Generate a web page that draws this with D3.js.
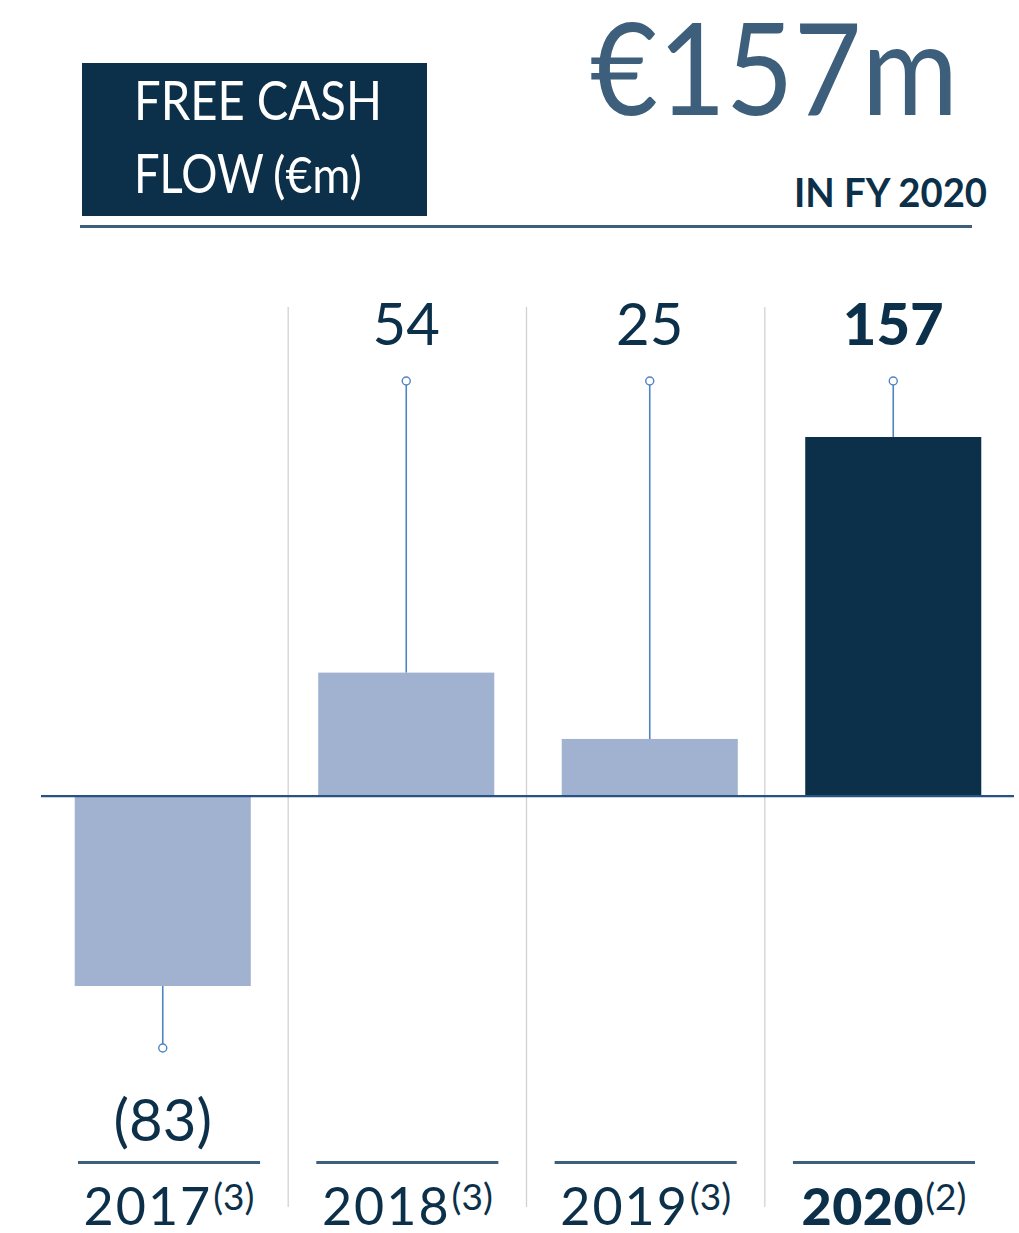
<!DOCTYPE html>
<html>
<head>
<meta charset="utf-8">
<script src="https://cdn.jsdelivr.net/npm/d3@7"></script>
<style>
  html, body { margin: 0; background: #ffffff; }
  svg { display: block; }
</style>
</head>
<body>
<script>
// Free cash flow by fiscal year, €m
const years = ["2017", "2018", "2019", "2020"];
const notes = ["(3)", "(3)", "(3)", "(2)"];
const values = [-83, 54, 25, 157];
const valueLabels = ["(83)", "54", "25", "157"];
const highlightYear = "2020";

const titleLine1 = "FREE CASH";
const titleLine2a = "FLOW";
const titleLine2b = "(€m)";
const headline = "€157m";
const headlineSub = "IN FY 2020";

const W = 1019, H = 1233;
const NAVY = "#0c3049";
const STEEL = "#3d5f7c";
const LIGHT = "#a0b2cf";
const LEADER = "#4f83c4";
const AXIS = "#2a5184";
const SEP = "#d2d2d2";
const FONT = "Lato, 'Noto Sans', sans-serif";

const svg = d3.select("body").append("svg")
  .attr("width", W).attr("height", H)
  .style("font-family", FONT);

// ---- header ----
svg.append("rect")
  .attr("x", 82).attr("y", 63).attr("width", 345).attr("height", 153)
  .attr("fill", NAVY);

// condensed title lines: natural glyphs squeezed horizontally
function squeezed(str, x0, y0, size, width) {
  const g = svg.append("g");
  const t = g.append("text")
    .attr("font-size", size).attr("fill", "#ffffff")
    .text(str);
  const w = t.node().getComputedTextLength();
  g.attr("transform", `translate(${x0},${y0}) scale(${width / w},1)`);
  return t;
}
squeezed(titleLine1, 134, 120, 54, 248);
squeezed(titleLine2a, 134, 193, 54, 130);
squeezed(titleLine2b, 273, 193, 50, 89);

svg.append("text")
  .attr("x", 590).attr("y", 115)
  .attr("font-size", 128).attr("font-weight", 400).attr("fill", STEEL)
  .attr("textLength", 368).attr("lengthAdjust", "spacingAndGlyphs")
  .text(headline);

svg.append("text")
  .attr("x", 794).attr("y", 207)
  .attr("font-size", 41).attr("font-weight", 700).attr("fill", NAVY)
  .attr("textLength", 193).attr("lengthAdjust", "spacingAndGlyphs")
  .text(headlineSub);

svg.append("line")
  .attr("x1", 80).attr("x2", 972).attr("y1", 226.5).attr("y2", 226.5)
  .attr("stroke", STEEL).attr("stroke-width", 3);

// ---- scales ----
const x = d3.scaleBand()
  .domain(years)
  .range([41, 1015])
  .paddingInner(0.277)
  .paddingOuter(0.1385);

const xFoot = d3.scaleBand()
  .domain(years)
  .range([78, 975])
  .paddingInner(0.236)
  .paddingOuter(0);

const y = d3.scaleLinear()
  .domain([d3.min(values), d3.max(values)])
  .range([986, 437]);

const data = years.map((yr, i) => ({
  year: yr, value: values[i], label: valueLabels[i], note: notes[i]
}));

// column separators, midway between footer bands
const gap = xFoot.step() - xFoot.bandwidth();
svg.append("g").selectAll("line")
  .data(years.slice(1))
  .join("line")
  .attr("x1", d => xFoot(d) - gap / 2)
  .attr("x2", d => xFoot(d) - gap / 2)
  .attr("y1", 307).attr("y2", 1207)
  .attr("stroke", SEP).attr("stroke-width", 1.3);

// bars
svg.append("g").selectAll("rect")
  .data(data)
  .join("rect")
  .attr("x", d => x(d.year))
  .attr("width", x.bandwidth())
  .attr("y", d => Math.min(y(d.value), y(0)))
  .attr("height", d => Math.abs(y(d.value) - y(0)))
  .attr("fill", d => d.year === highlightYear ? NAVY : LIGHT);

// zero line
svg.append("line")
  .attr("x1", 41).attr("x2", 1014)
  .attr("y1", y(0)).attr("y2", y(0))
  .attr("stroke", AXIS).attr("stroke-width", 2.2);

// leader lines with end markers
const leaderTop = 381, leaderBottom = 1048;
const leaders = svg.append("g");
leaders.selectAll("line")
  .data(data)
  .join("line")
  .attr("x1", d => x(d.year) + x.bandwidth() / 2)
  .attr("x2", d => x(d.year) + x.bandwidth() / 2)
  .attr("y1", d => y(d.value))
  .attr("y2", d => d.value >= 0 ? leaderTop + 4 : leaderBottom - 4)
  .attr("stroke", LEADER).attr("stroke-width", 1.6);
leaders.selectAll("circle")
  .data(data)
  .join("circle")
  .attr("cx", d => x(d.year) + x.bandwidth() / 2)
  .attr("cy", d => d.value >= 0 ? leaderTop : leaderBottom)
  .attr("r", 4)
  .attr("fill", "#ffffff")
  .attr("stroke", LEADER).attr("stroke-width", 1.4);

// value labels
svg.append("g").selectAll("text")
  .data(data)
  .join("text")
  .attr("x", d => x(d.year) + x.bandwidth() / 2)
  .attr("y", d => d.value >= 0 ? 345 : 1141)
  .attr("text-anchor", "middle")
  .attr("font-size", 58)
  .attr("font-weight", d => d.year === highlightYear ? 900 : 400)
  .attr("fill", NAVY)
  .text(d => d.label);

// footer rules
svg.append("g").selectAll("line")
  .data(years)
  .join("line")
  .attr("x1", d => xFoot(d))
  .attr("x2", d => xFoot(d) + xFoot.bandwidth())
  .attr("y1", 1162.5).attr("y2", 1162.5)
  .attr("stroke", STEEL).attr("stroke-width", 3);

// year labels with note markers, centred as a pair under each rule
const yearG = svg.append("g").selectAll("g")
  .data(data)
  .join("g");
yearG.append("text")
  .attr("class", "yr")
  .attr("y", 1225)
  .attr("fill", NAVY)
  .attr("font-size", 52)
  .attr("font-weight", d => d.year === highlightYear ? 900 : 400)
  .attr("letter-spacing", d => d.year === highlightYear ? 0.5 : 2)
  .text(d => d.year);
yearG.append("text")
  .attr("class", "nt")
  .attr("y", 1210)
  .attr("fill", NAVY)
  .attr("font-size", 37)
  .text(d => d.note);
yearG.each(function (d) {
  const g = d3.select(this);
  const tY = g.select("text.yr");
  const tN = g.select("text.nt");
  const wY = tY.node().getComputedTextLength();
  const wN = tN.node().getComputedTextLength();
  const total = wY + 1 + wN;
  const left = xFoot(d.year) + xFoot.bandwidth() / 2 - total / 2;
  tY.attr("x", left);
  tN.attr("x", left + wY + 1);
});
</script>
</body>
</html>
